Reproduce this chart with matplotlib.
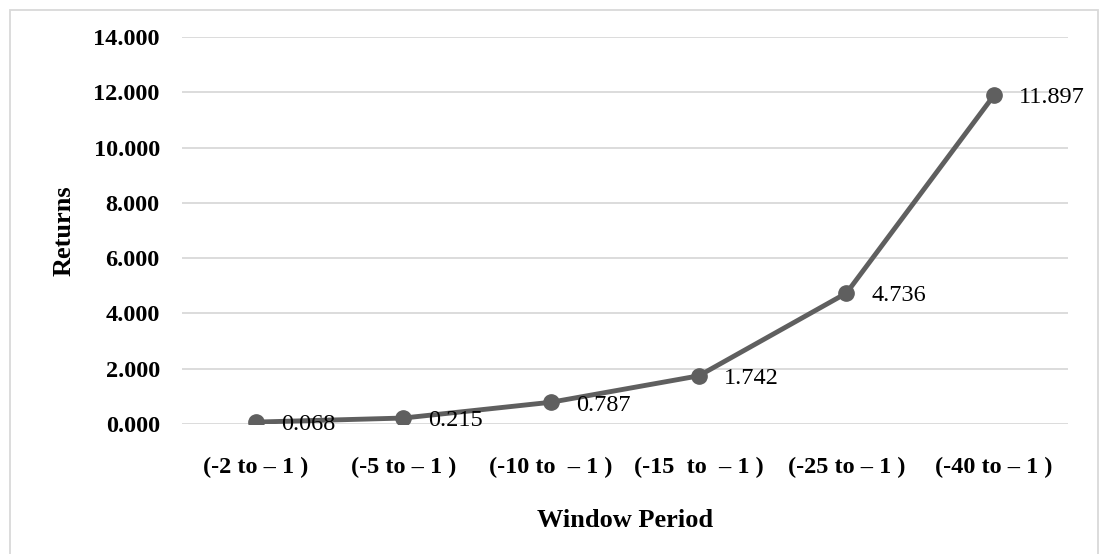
import matplotlib.pyplot as plt
from matplotlib.patches import Rectangle

# Returns by event window
windows = ['(-2 to \u2013 1 )', '(-5 to \u2013 1 )', '(-10 to  \u2013 1 )',
           '(-15  to  \u2013 1 )', '(-25 to \u2013 1 )', '(-40 to \u2013 1 )']
returns = [0.068, 0.215, 0.787, 1.742, 4.736, 11.897]
yticks = [0, 2, 4, 6, 8, 10, 12, 14]

plt.rcParams['font.family'] = ['Liberation Serif', 'DejaVu Serif']

fig = plt.figure(figsize=(11.01, 5.54), dpi=100)
ax = fig.add_axes([0.1653, 0.2347, 0.8047, 0.6985])

x = list(range(len(windows)))
ax.plot(x, returns, color='#5f5f5f', linewidth=3.5, marker='o', markersize=11,
        solid_capstyle='round', zorder=3)

for xi, v in zip(x, returns):
    ax.annotate(f'{v:.3f}', (xi, v), xytext=(18, -2), textcoords='offset points',
                ha='left', va='center', fontsize=17.5, color='black')

ax.set_xlim(-0.5, len(windows) - 0.5)
ax.set_ylim(0, 14)
ax.set_yticks(yticks)
ax.set_yticklabels([f'{t:.3f}' for t in yticks], fontsize=17.5, fontweight='bold')
ax.set_xticks(x)
ax.set_xticklabels(windows, fontsize=17.5, fontweight='bold')
ax.tick_params(length=0)
ax.tick_params(axis='y', pad=16)
ax.tick_params(axis='x', pad=24)

ax.grid(axis='y', color='#d9d9d9', linewidth=1.3)
ax.set_axisbelow(True)
for s in ax.spines.values():
    s.set_visible(False)

ax.set_xlabel('Window Period', fontsize=19, fontweight='bold', labelpad=22)
ax.set_ylabel('Returns', fontsize=19, fontweight='bold', labelpad=13)

# outer chart border, open at the bottom edge of the image
fig.patches.append(Rectangle((10 / 1101, -10 / 554), 1088 / 1101, 554 / 554,
                             transform=fig.transFigure, fill=False,
                             edgecolor='#d9d9d9', linewidth=1.3))

fig.savefig('out.png', dpi=100)
